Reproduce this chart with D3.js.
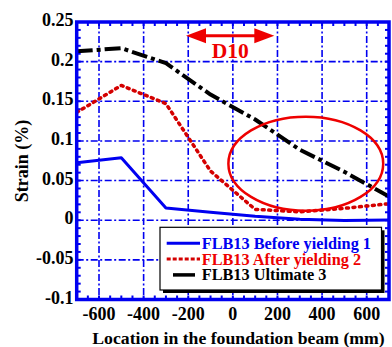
<!DOCTYPE html>
<html><head><meta charset="utf-8">
<script src="https://cdn.jsdelivr.net/npm/d3@7"></script>
<style>
body{margin:0;background:#fff}svg{display:block}
svg text{font-family:"Liberation Serif","Times New Roman","DejaVu Serif",serif;font-weight:bold}
</style>
</head><body>
<script>
// ---- data ----
const locations = [-700, -500, -300, -100, 100, 300, 500, 700];
const beforeYielding = [0.0726, 0.0789, 0.0155, 0.0099, 0.0049, 0.0012, -0.0003, 0.0003];
const afterYielding  = [0.136, 0.170, 0.147, 0.062, 0.0137, 0.0106, 0.015, 0.0208];
const ultimate       = [0.213, 0.217, 0.198, 0.1585, 0.127, 0.089, 0.061, 0.030];
const seriesNames = ["FLB13 Before yielding 1", "FLB13 After yielding 2", "FLB13 Ultimate 3"];
const xTickValues = [-600, -400, -200, 0, 200, 400, 600];
const xTickLabels = ["-600", "-400", "-200", "0", "200", "400", "600"];
const yTickValues = [0.25, 0.2, 0.15, 0.1, 0.05, 0, -0.05, -0.1];
const yTickLabels = ["0.25", "0.2", "0.15", "0.1", "0.05", "0", "-0.05", "-0.1"];
const xDomain = [-700, 700];
const yDomain = [-0.1, 0.25];
// annotations (data coordinates)
const d10Span = [-210, 186];
const d10Level = 0.2327;
const d10Label = "D10";
const ellipseCenter = [327, 0.0713];
const ellipseRadii = [347, 0.0593];

// ---- layout ----
const W = 392, H = 347;
const L = 76.7, R = 389, T = 22, B = 299.5;
const blue = "#0000f0", red = "#ee0000", darkRed = "#d40000";

const svg = d3.select("body").append("svg").attr("width", W).attr("height", H);
const x = d3.scaleLinear().domain(xDomain).range([L, R]);
const y = d3.scaleLinear().domain(yDomain).range([B, T]);

svg.append("defs").append("clipPath").attr("id", "clip")
  .append("rect").attr("x", L).attr("y", T).attr("width", R - L).attr("height", B - T);

// grid
const grid = svg.append("g").attr("stroke", blue).attr("stroke-width", 1.6)
  .attr("stroke-dasharray", "7,2.5,2,2.5");
grid.selectAll("line.v").data(xTickValues).join("line").attr("class", "v")
  .attr("x1", d => x(d)).attr("x2", d => x(d)).attr("y1", T).attr("y2", B);
grid.selectAll("line.h").data(yTickValues.filter(v => v < 0.25 && v > -0.1)).join("line")
  .attr("class", "h").attr("y1", d => y(d)).attr("y2", d => y(d)).attr("x1", L).attr("x2", R);

// ticks (minor, inward, all four sides)
const xMinor = d3.range(-650, 700, 50);
const yMinor = d3.range(-9, 25).map(i => i / 100);
const ticks = svg.append("g").attr("stroke", blue).attr("stroke-width", 2);
ticks.selectAll("line.b").data(xMinor).join("line").attr("class", "b")
  .attr("x1", d => x(d)).attr("x2", d => x(d)).attr("y1", B).attr("y2", B - 4);
ticks.selectAll("line.t").data(xMinor).join("line").attr("class", "t")
  .attr("x1", d => x(d)).attr("x2", d => x(d)).attr("y1", T).attr("y2", T + 4);
ticks.selectAll("line.l").data(yMinor).join("line").attr("class", "l")
  .attr("y1", d => y(d)).attr("y2", d => y(d)).attr("x1", L).attr("x2", L + 4);
ticks.selectAll("line.r").data(yMinor).join("line").attr("class", "r")
  .attr("y1", d => y(d)).attr("y2", d => y(d)).attr("x1", R).attr("x2", R - 4);

// data lines
const line = d3.line().x(d => x(d[0])).y(d => y(d[1]));
const plot = svg.append("g").attr("clip-path", "url(#clip)");
const series = [
  {vals: beforeYielding, color: blue, w: 3, dash: null, cap: "butt"},
  {vals: afterYielding, color: darkRed, w: 3.5, dash: "2,4.5", cap: "round"},
  {vals: ultimate, color: "#000", w: 4, dash: "16,4,4,4", cap: "butt"}
];
series.forEach(s => {
  plot.append("path").datum(locations.map((l, i) => [l, s.vals[i]]))
    .attr("d", line).attr("fill", "none").attr("stroke", s.color)
    .attr("stroke-width", s.w).attr("stroke-linecap", s.cap)
    .attr("stroke-linejoin", "round")
    .attr("stroke-dasharray", s.dash);
});

// ellipse annotation
svg.append("ellipse")
  .attr("cx", x(ellipseCenter[0])).attr("cy", y(ellipseCenter[1]))
  .attr("rx", x(ellipseRadii[0]) - x(0)).attr("ry", y(0) - y(ellipseRadii[1]))
  .attr("fill", "none").attr("stroke", red).attr("stroke-width", 2.5);

// D10 arrow
const ax1 = x(d10Span[0]), ax2 = x(d10Span[1]), ay = y(d10Level);
svg.append("line").attr("x1", ax1 + 15).attr("x2", ax2 - 15).attr("y1", ay).attr("y2", ay)
  .attr("stroke", red).attr("stroke-width", 3);
svg.append("path").attr("fill", red)
  .attr("d", `M${ax1},${ay} L${ax1 + 20},${ay - 7.5} L${ax1 + 20},${ay + 7.5} Z`);
svg.append("path").attr("fill", red)
  .attr("d", `M${ax2},${ay} L${ax2 - 20},${ay - 7.5} L${ax2 - 20},${ay + 7.5} Z`);
svg.append("text").attr("x", (ax1 + ax2) / 2).attr("y", y(0.204))
  .attr("text-anchor", "middle").style("font-size", "21.5px").attr("fill", red).text(d10Label);

// legend
const lg = svg.append("g");
const lx = 160, ly = 227.3, lw = 221.5, lh = 62.7;
lg.append("rect").attr("x", lx + 3).attr("y", ly + 3).attr("width", lw).attr("height", lh).attr("fill", "#000");
lg.append("rect").attr("x", lx).attr("y", ly).attr("width", lw).attr("height", lh)
  .attr("fill", "#fff").attr("stroke", "#000").attr("stroke-width", 1.2);
const legRows = [
  {name: seriesNames[0], color: blue, text: blue, dash: null, x1: 166.7, x2: 200, w: 3},
  {name: seriesNames[1], color: darkRed, text: red, dash: "4,2", x1: 166.7, x2: 200, w: 3},
  {name: seriesNames[2], color: "#000", text: "#000", dash: null, x1: 173, x2: 195, w: 3.5}
];
legRows.forEach((r, i) => {
  const yy = 243.3 + i * 15.8;
  lg.append("line").attr("x1", r.x1).attr("x2", r.x2).attr("y1", yy).attr("y2", yy)
    .attr("stroke", r.color).attr("stroke-width", r.w).attr("stroke-dasharray", r.dash);
  lg.append("text").attr("x", 201.7).attr("y", yy + 5.5)
    .style("font-size", "16.3px").attr("fill", r.text).text(r.name);
});

// border
svg.append("rect").attr("x", L).attr("y", T).attr("width", R - L).attr("height", B - T)
  .attr("fill", "none").attr("stroke", blue).attr("stroke-width", 3.5);

// tick labels
const lab = svg.append("g").attr("fill", "#000");
lab.selectAll("text.y").data(yTickValues).join("text").attr("class", "y")
  .attr("x", 73.5).attr("y", d => y(d) + 4).attr("text-anchor", "end")
  .style("font-size", "18px").text((d, i) => yTickLabels[i]);
lab.selectAll("text.x").data(xTickValues).join("text").attr("class", "x")
  .attr("x", d => x(d)).attr("y", 320).attr("text-anchor", "middle")
  .style("font-size", "18px").text((d, i) => xTickLabels[i]);

// axis titles
svg.append("text").attr("x", 238.5).attr("y", 344).attr("text-anchor", "middle")
  .style("font-size", "17.7px").text("Location in the foundation beam (mm)");
svg.append("text").attr("transform", "translate(27.5,161) rotate(-90)")
  .attr("text-anchor", "middle").style("font-size", "18px").text("Strain (%)");
</script>
</body></html>
